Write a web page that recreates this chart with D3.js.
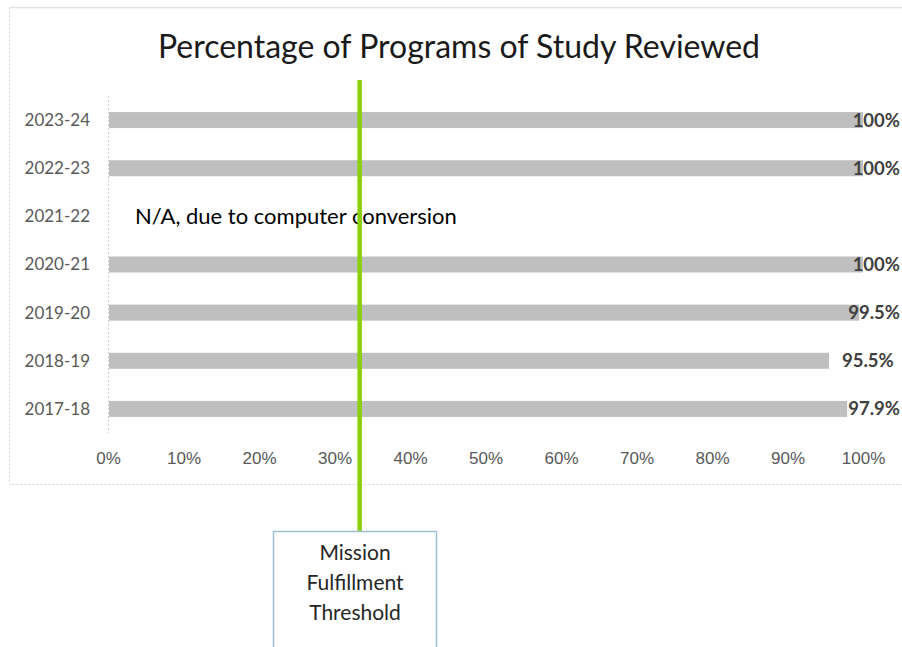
<!DOCTYPE html>
<html lang="en">
<head>
    <meta charset="UTF-8">
    <title>Percentage of Programs of Study Reviewed</title>
    <style>
        body, html {
            margin: 0;
            padding: 0;
            background-color: #ffffff;
            overflow: hidden;
            font-family: 'Lato', 'Open Sans', sans-serif;
        }

        .year-label {
            fill: #595959;
            font-size: 17px;
        }

        .tick text {
            fill: #595959;
            font-size: 17px;
        }

        .value-label {
            fill: #404040;
            font-size: 18.5px;
            font-weight: bold;
        }

        .note {
            fill: #000000;
            font-size: 22px;
        }

        .title {
            fill: #1a1a1a;
            font-size: 32px;
        }

        .box-text {
            fill: #262626;
            font-size: 21px;
            text-anchor: middle;
        }
    </style>
</head>
<body>
    <div id="chart"></div>

    <script src="https://d3js.org/d3.v7.min.js"></script>
    <script>
        // Data (top to bottom as shown)
        const years = ["2023-24", "2022-23", "2021-22", "2020-21", "2019-20", "2018-19", "2017-18"];
        const reviewed = [1.0, 1.0, null, 1.0, 0.995, 0.955, 0.979];
        const xTicks = [0, 0.1, 0.2, 0.3, 0.4, 0.5, 0.6, 0.7, 0.8, 0.9, 1.0];
        const threshold = 1 / 3;
        const thresholdLines = ["Mission", "Fulfillment", "Threshold"];
        const naNote = "N/A, due to computer conversion";
        const chartTitle = "Percentage of Programs of Study Reviewed";

        const width = 902;
        const height = 647;

        const svg = d3.select("#chart")
            .append("svg")
            .attr("width", width)
            .attr("height", height);

        // Chart area frame: solid top, dashed left and bottom
        svg.append("rect")
            .attr("x", 9.5)
            .attr("y", 7.5)
            .attr("width", 900)
            .attr("height", 477)
            .attr("fill", "none")
            .attr("stroke", "#d0d0d0")
            .attr("stroke-dasharray", "2,2");

        svg.append("line")
            .attr("x1", 9)
            .attr("x2", width)
            .attr("y1", 7.5)
            .attr("y2", 7.5)
            .attr("stroke", "#e3e3e3")
            .attr("stroke-width", 1.5);

        svg.append("text")
            .attr("class", "title")
            .attr("x", 459)
            .attr("y", 47)
            .attr("dy", "0.35em")
            .attr("text-anchor", "middle")
            .text(chartTitle);

        // Scales
        const x = d3.scaleLinear()
            .domain([0, 1])
            .range([108, 863]);

        const y = d3.scaleBand()
            .domain(years)
            .range([96, 433])
            .padding(0);

        const barH = 16;
        const rows = years.map((yr, i) => ({ year: yr, value: reviewed[i] }));

        // Vertical category axis line
        svg.append("line")
            .attr("x1", x(0) + 0.5)
            .attr("x2", x(0) + 0.5)
            .attr("y1", y.range()[0])
            .attr("y2", y.range()[1])
            .attr("stroke", "#d0d0d0")
            .attr("stroke-dasharray", "2,2");

        // Bars
        svg.selectAll(".bar")
            .data(rows.filter(d => d.value !== null))
            .join("rect")
            .attr("class", "bar")
            .attr("x", x(0) + 1)
            .attr("y", d => y(d.year) + y.bandwidth() / 2 - barH / 2)
            .attr("width", d => x(d.value) - x(0) - 1)
            .attr("height", barH)
            .attr("fill", "#bfbfbf");

        // Year labels
        svg.selectAll(".year-label")
            .data(rows)
            .join("text")
            .attr("class", "year-label")
            .attr("x", 90)
            .attr("y", d => y(d.year) + y.bandwidth() / 2)
            .attr("dy", "0.35em")
            .attr("text-anchor", "end")
            .text(d => d.year);

        // Value labels, pushed back inside the frame when they would overflow
        const fmt = v => v === 1 ? "100%" : d3.format(".1%")(v);
        svg.selectAll(".value-label")
            .data(rows.filter(d => d.value !== null))
            .join("text")
            .attr("class", "value-label")
            .attr("y", d => y(d.year) + y.bandwidth() / 2)
            .attr("dy", "0.35em")
            .text(d => fmt(d.value))
            .attr("x", function(d) {
                const w = this.getComputedTextLength();
                return Math.min(x(d.value) + 13, 900 - w);
            });

        // N/A note
        svg.append("text")
            .attr("class", "note")
            .attr("x", 135)
            .attr("y", y("2021-22") + y.bandwidth() / 2)
            .attr("dy", "0.35em")
            .text(naNote);

        // Bottom axis
        const xAxis = d3.axisBottom(x)
            .tickValues(xTicks)
            .tickFormat(d3.format(".0%"))
            .tickSize(0)
            .tickPadding(0);

        svg.append("g")
            .attr("transform", "translate(0,452)")
            .call(xAxis)
            .call(g => g.select(".domain").remove())
            .call(g => g.selectAll("text").attr("font-family", null).attr("font-size", null));

        // Threshold marker
        svg.append("line")
            .attr("x1", x(threshold))
            .attr("x2", x(threshold))
            .attr("y1", 80)
            .attr("y2", 531)
            .attr("stroke", "#8ccf0c")
            .attr("stroke-width", 4.5);

        svg.append("rect")
            .attr("x", 273.5)
            .attr("y", 531.5)
            .attr("width", 163)
            .attr("height", 130)
            .attr("fill", "#ffffff")
            .attr("stroke", "#9fbfd3")
            .attr("stroke-width", 1.5);

        svg.selectAll(".box-text")
            .data(thresholdLines)
            .join("text")
            .attr("class", "box-text")
            .attr("x", 355)
            .attr("y", (d, i) => 553 + i * 30)
            .attr("dy", "0.35em")
            .text(d => d);
    </script>
</body>
</html>
